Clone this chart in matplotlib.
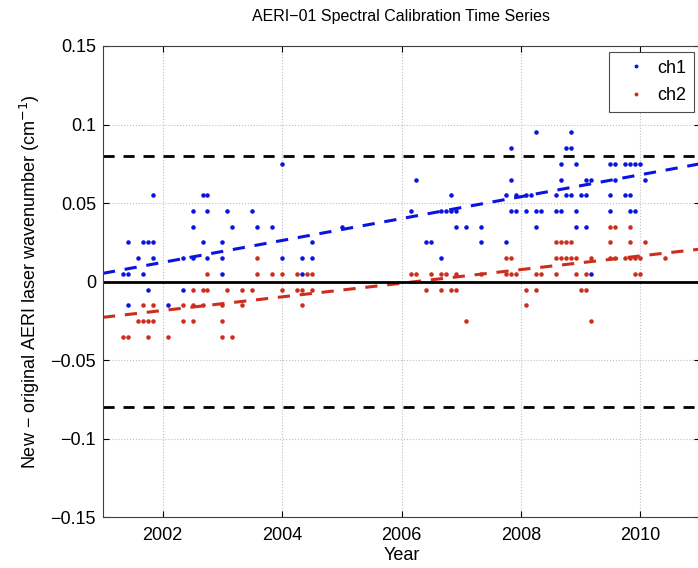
import matplotlib

matplotlib.use("Agg")
import matplotlib.pyplot as plt
import numpy as np

plt.rcParams["font.family"] = ["Liberation Sans", "DejaVu Sans"]

# --- data ---------------------------------------------------------------------
# months since Jan 2001, one entry per plotted point
ch1_month = [4, 5, 5, 5, 7, 8, 8, 9, 9, 10, 10, 10, 13, 16, 16, 18, 18, 18,
             20, 20, 21, 21, 21, 24, 24, 24, 25, 26, 30, 31, 34, 36, 36, 40, 40,
             42, 42, 48, 62, 63, 65, 66, 68, 68, 69, 70, 70, 71, 71, 73, 76, 76,
             81, 81, 82, 82, 82, 83, 83, 85, 85, 86, 87, 87, 87, 88, 91, 91,
             92, 92, 92, 93, 93, 94, 94, 94, 95, 95, 95, 96, 97, 97, 97, 98, 98,
             102, 102, 102, 103, 103, 105, 105, 106, 106, 106, 107, 107, 108, 109]
ch1_val = [0.005, 0.025, 0.005, -0.015, 0.015, 0.025, 0.005, 0.025, -0.005,
           0.055, 0.025, 0.015, -0.015, 0.015, -0.005, 0.045, 0.035, 0.015,
           0.055, 0.025, 0.055, 0.045, 0.015, 0.025, 0.015, 0.005, 0.045, 0.035,
           0.045, 0.035, 0.035, 0.075, 0.015, 0.015, 0.005, 0.025, 0.015, 0.035,
           0.045, 0.065, 0.025, 0.025, 0.045, 0.015, 0.045, 0.055, 0.045, 0.045,
           0.035, 0.035, 0.035, 0.025, 0.055, 0.025, 0.085, 0.065, 0.045, 0.055,
           0.045, 0.055, 0.045, 0.055, 0.095, 0.045, 0.035, 0.045, 0.055, 0.045,
           0.075, 0.065, 0.045, 0.085, 0.055, 0.095, 0.085, 0.055, 0.075, 0.045,
           0.035, 0.055, 0.065, 0.055, 0.035, 0.065, 0.005, 0.075, 0.055, 0.045,
           0.075, 0.065, 0.075, 0.055, 0.075, 0.055, 0.045, 0.075, 0.045, 0.075,
           0.065]

ch2_month = [4, 5, 7, 8, 8, 9, 9, 10, 10, 13, 16, 16, 18, 18, 18, 20, 20, 21, 21,
             24, 24, 24, 25, 26, 28, 28, 30, 31, 31, 34, 36, 36, 39, 39, 40, 40,
             41, 42, 42, 62, 63, 65, 66, 68, 68, 69, 70, 71, 71, 73, 76, 81, 81,
             82, 82, 83, 85, 85, 87, 87, 88, 91, 91, 91, 92, 92, 93, 93, 94, 94,
             95, 95, 96, 97, 97, 98, 98, 102, 102, 102, 103, 103, 105, 106, 106,
             106, 107, 107, 108, 108, 109, 113]
ch2_val = [-0.035, -0.035, -0.025, -0.015, -0.025, -0.025, -0.035, -0.015,
           -0.025, -0.035, -0.015, -0.025, -0.005, -0.015, -0.025, -0.005, -0.015,
           0.005, -0.005, -0.015, -0.025, -0.035, -0.005, -0.035, -0.005, -0.015,
           -0.005, 0.015, 0.005, 0.005, 0.005, -0.005, 0.005, -0.005, -0.005,
           -0.015, 0.005, 0.005, -0.005, 0.005, 0.005, -0.005, 0.005, 0.005,
           -0.005, 0.005, -0.005, 0.005, -0.005, -0.025, 0.005, 0.015, 0.005,
           0.015, 0.005, 0.005, -0.005, -0.015, 0.005, -0.005, 0.005, 0.025,
           0.015, 0.005, 0.025, 0.015, 0.025, 0.015, 0.025, 0.015, 0.015, 0.005,
           -0.005, 0.005, -0.005, 0.015, -0.025, 0.035, 0.025, 0.015, 0.035,
           0.015, 0.015, 0.035, 0.025, 0.015, 0.015, 0.005, 0.015, 0.005, 0.025,
           0.015]

# linear trends (end points) and the +/- tolerance lines
trend_year = [2001.0, 2011.0]
ch1_trend = [0.0053, 0.0750]
ch2_trend = [-0.0227, 0.0207]
tolerance = 0.08

yticks = [-0.15, -0.1, -0.05, 0, 0.05, 0.1, 0.15]
ytick_labels = ["\u22120.15", "\u22120.1", "\u22120.05", "0", "0.05", "0.1", "0.15"]
xticks = [2002, 2004, 2006, 2008, 2010]

BLUE = "#0a14e0"
RED = "#cc2e1c"

# --- figure -------------------------------------------------------------------
fig = plt.figure(figsize=(6.98, 5.68), dpi=100)
ax = fig.add_axes([103 / 698, 50.7 / 568, 597 / 698, 471.3 / 568])

x1 = 2001 + np.asarray(ch1_month) / 12.0
x2 = 2001 + np.asarray(ch2_month) / 12.0
ax.plot(x1, ch1_val, ".", color=BLUE, ms=4.5, label="ch1", zorder=3)
ax.plot(x2, ch2_val, ".", color=RED, ms=4.5, label="ch2", zorder=3)

ax.plot(trend_year, ch1_trend, "--", color=BLUE, lw=2.2, dashes=(4, 3.2), zorder=2)
ax.plot(trend_year, ch2_trend, "--", color=RED, lw=2.2, dashes=(4, 3.2), zorder=2)
ax.axhline(0, color="black", lw=2.0, zorder=2)
for lev in (tolerance, -tolerance):
    ax.axhline(lev, color="black", lw=2.0, ls="--", dashes=(4, 3.2), zorder=2)

ax.set_xlim(2001, 2011)
ax.set_ylim(-0.15, 0.15)
ax.set_xticks(xticks)
ax.set_yticks(yticks)
ax.set_yticklabels(ytick_labels)
ax.tick_params(direction="in", labelsize=13, length=4, top=True, right=True,
               width=0.8, pad=5)
ax.tick_params(axis="x", pad=7)
ax.grid(True, ls=":", color="0.75", lw=0.8)
for sp in ax.spines.values():
    sp.set_linewidth(0.8)
    sp.set_color("0.25")

ax.set_title("AERI\u221201 Spectral Calibration Time Series", fontsize=11.5, pad=18)
ax.set_xlabel("Year", fontsize=13, labelpad=2)
ax.set_ylabel("New \u2212 original AERI laser wavenumber (cm$^{-1}$)", fontsize=13,
              labelpad=6)

leg = ax.legend(loc="upper right", fontsize=13, markerscale=0.8, handlelength=2.2,
                handletextpad=0.1, borderaxespad=0.35, fancybox=False,
                edgecolor="0.3", framealpha=1, borderpad=0.4, labelspacing=0.6,
                bbox_to_anchor=(1.0, 1.0))
leg.get_frame().set_linewidth(0.8)

fig.savefig("out.png", dpi=100)
